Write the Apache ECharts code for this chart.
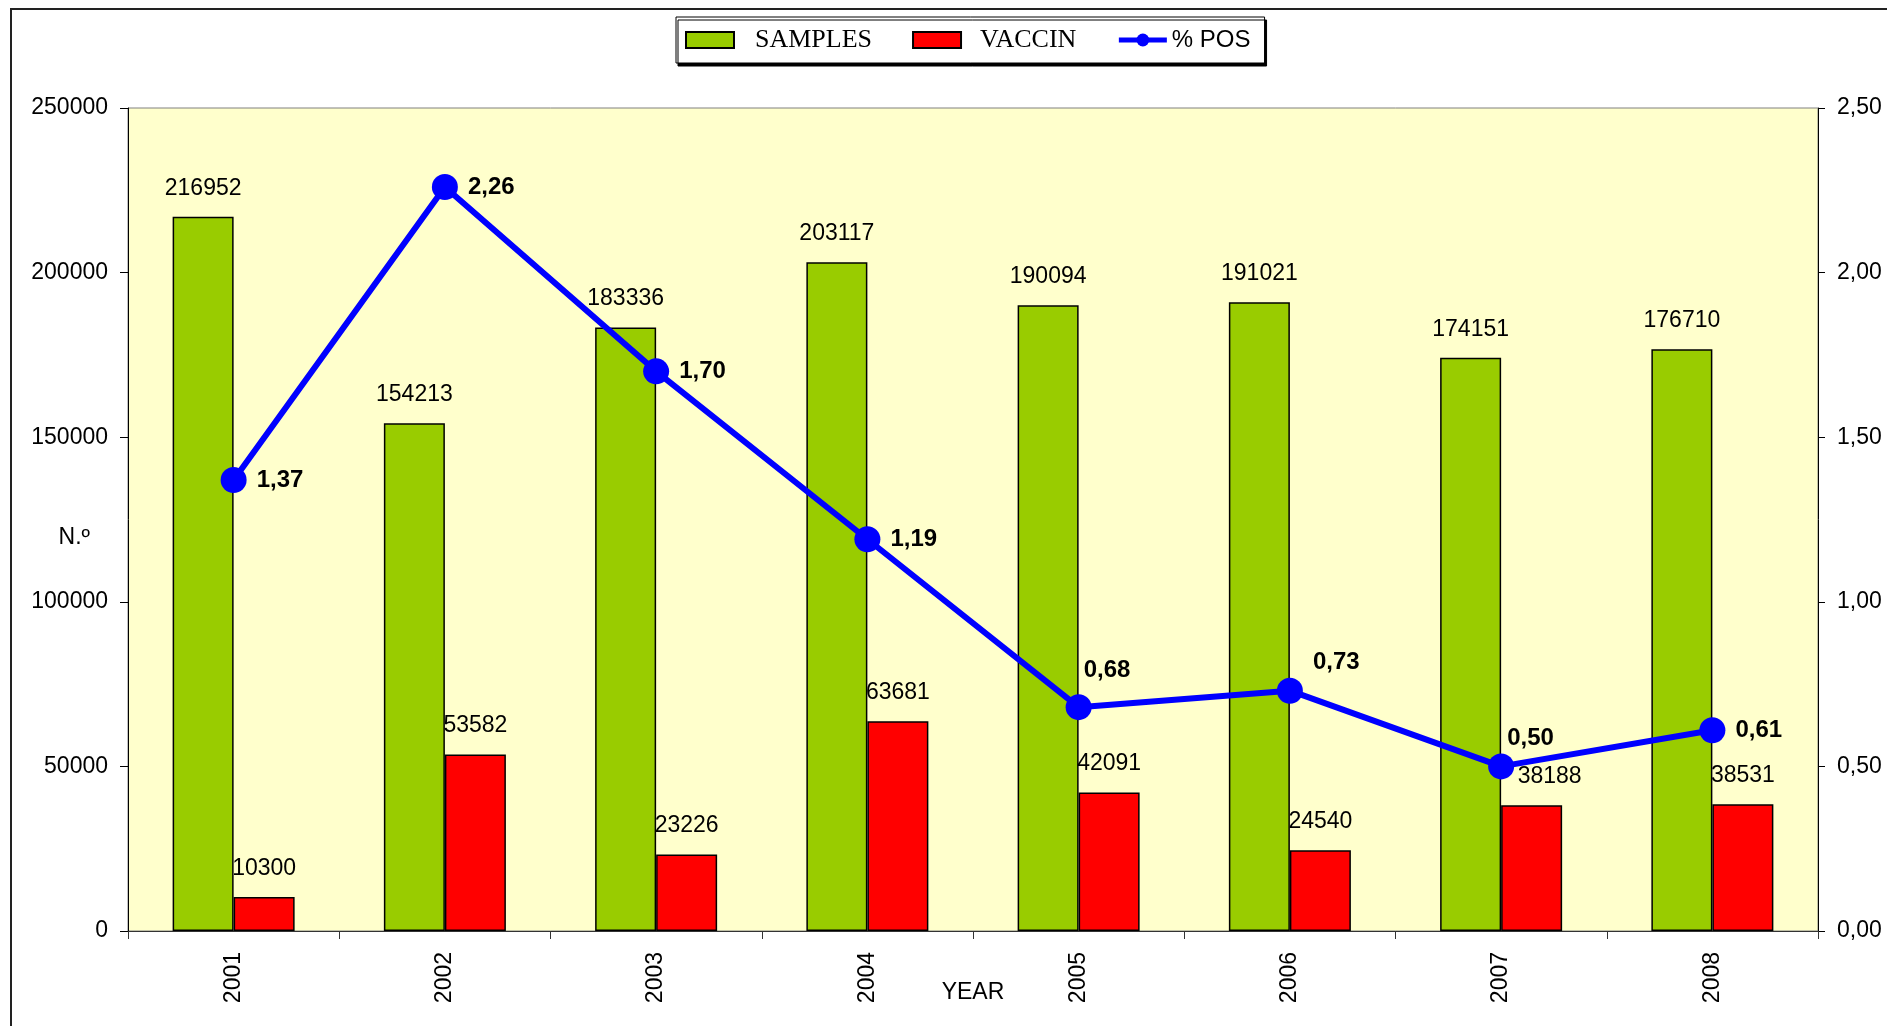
<!DOCTYPE html>
<html>
<head>
<meta charset="utf-8">
<title>Samples / Vaccin / % POS</title>
<script src="https://cdn.jsdelivr.net/npm/echarts@6.0.0/dist/echarts.min.js"></script>
<style>
  html, body { margin: 0; padding: 0; background: #fff; }
  #chart { width: 1887px; height: 1026px; }
</style>
</head>
<body>
<div id="chart"></div>
<script>
// data
const years = ['2001', '2002', '2003', '2004', '2005', '2006', '2007', '2008']
const samples = [216952, 154213, 183336, 203117, 190094, 191021, 174151, 176710]
const vaccin = [10300, 53582, 23226, 63681, 42091, 24540, 38188, 38531]
const posPct = [1.37, 2.26, 1.70, 1.19, 0.68, 0.73, 0.50, 0.61]

// axis ranges
const leftMax = 250000
const leftStep = 50000
const rightMax = 2.5
const rightStep = 0.5

// a few labels sit off their default place in the original
const posLabelShift = { 4: [-18, -37], 5: [0, -28], 6: [-17, -28] }
const vaccinLabelShift = { 6: [18, 0] }

const font = "'Liberation Sans', Arial, sans-serif"
const serif = "'Liberation Serif', 'Times New Roman', serif"
const comma = v => v.toFixed(2).replace('.', ',')

const chart = echarts.init(document.getElementById('chart'))

const option = {
  animation: false,
  textStyle: { fontFamily: font },
  graphic: [{
    type: 'rect',
    z: -10,
    shape: { x: 11, y: 9, width: 1900, height: 1100 },
    style: { fill: 'none', stroke: '#222', lineWidth: 2 }
  }],
  legend: {
    left: 676,
    top: 17,
    padding: [10, 14, 10, 9],
    itemWidth: 48,
    itemHeight: 16,
    itemGap: 40,
    backgroundColor: '#fff',
    borderColor: '#000',
    borderWidth: 1,
    shadowColor: '#000',
    shadowBlur: 0,
    shadowOffsetX: 2,
    shadowOffsetY: 3,
    selectedMode: false,
    textStyle: { color: '#000', fontSize: 24, fontFamily: font },
    data: [
      { name: 'SAMPLES', icon: 'rect', textStyle: { fontFamily: serif, fontSize: 26, padding: [0, 0, 0, 16] } },
      { name: 'VACCIN', icon: 'rect', textStyle: { fontFamily: serif, fontSize: 26, padding: [0, 0, 0, 14] } },
      { name: '% POS', lineStyle: { width: 5 } }
    ]
  },
  grid: {
    left: 128,
    right: 69,
    top: 108,
    bottom: 95,
    outerBoundsMode: 'none',
    show: true,
    backgroundColor: '#FFFFCC',
    borderColor: '#808080',
    borderWidth: 1
  },
  xAxis: {
    type: 'category',
    data: years,
    name: 'YEAR',
    nameLocation: 'middle',
    nameGap: 50,
    nameMoveOverlap: false,
    nameTextStyle: { color: '#000', fontSize: 23 },
    axisLine: { lineStyle: { color: '#333', width: 1 } },
    axisTick: { show: true, length: 8, lineStyle: { color: '#333' } },
    axisLabel: { rotate: 90, margin: 21, color: '#000', fontSize: 23 },
    splitLine: { show: false }
  },
  yAxis: [{
    type: 'value',
    min: 0,
    max: leftMax,
    interval: leftStep,
    name: 'N.º',
    nameLocation: 'middle',
    nameRotate: 0,
    nameGap: 38,
    nameMoveOverlap: false,
    nameTextStyle: { color: '#000', fontSize: 23, verticalAlign: 'top', padding: [7, 0, 0, 0] },
    axisLine: { show: true, lineStyle: { color: '#000', width: 1 } },
    axisTick: { show: true, length: 8, lineStyle: { color: '#000' } },
    axisLabel: { margin: 20, color: '#000', fontSize: 23, formatter: v => String(v) },
    splitLine: { show: false }
  }, {
    type: 'value',
    position: 'right',
    min: 0,
    max: rightMax,
    interval: rightStep,
    axisLine: { show: true, lineStyle: { color: '#000', width: 1 } },
    axisTick: { show: true, length: 7, lineStyle: { color: '#000' } },
    axisLabel: { margin: 19, color: '#000', fontSize: 23, formatter: v => comma(v) },
    splitLine: { show: false }
  }],
  series: [
    {
      name: 'SAMPLES',
      type: 'bar',
      barWidth: 61,
      barGap: '0%',
      itemStyle: { color: '#99CC00', borderColor: '#000', borderWidth: 1.5 },
      label: { show: true, position: 'top', distance: 17, color: '#000', fontSize: 23 },
      data: samples
    },
    {
      name: 'VACCIN',
      type: 'bar',
      barWidth: 61,
      barGap: '0%',
      itemStyle: { color: '#FF0000', borderColor: '#000', borderWidth: 1.5 },
      label: { show: true, position: 'top', distance: 17, color: '#000', fontSize: 23 },
      data: vaccin.map((v, i) => vaccinLabelShift[i]
        ? { value: v, label: { offset: vaccinLabelShift[i] } }
        : v)
    },
    {
      name: '% POS',
      type: 'line',
      yAxisIndex: 1,
      symbol: 'circle',
      symbolSize: 26,
      z: 5,
      itemStyle: { color: '#0000FF' },
      lineStyle: { color: '#0000FF', width: 6 },
      label: {
        show: true,
        position: 'right',
        distance: 10,
        color: '#000',
        fontSize: 24,
        fontWeight: 'bold',
        formatter: p => comma(p.value)
      },
      data: posPct.map((v, i) => posLabelShift[i]
        ? { value: v, label: { offset: posLabelShift[i] } }
        : v)
    }
  ]
}

chart.setOption(option)
</script>
</body>
</html>
